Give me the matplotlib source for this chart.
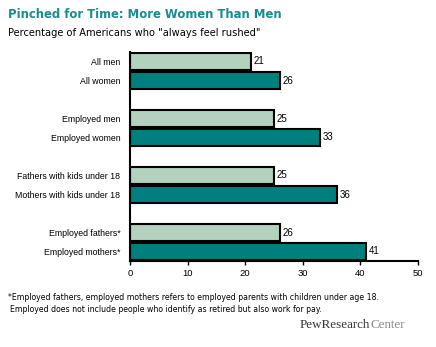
import matplotlib.pyplot as plt
import numpy as np

labels_men = ["All men", "Employed men", "Fathers with kids under 18", "Employed fathers*"]
labels_women = ["All women", "Employed women", "Mothers with kids under 18", "Employed mothers*"]
men = [21, 25, 25, 26]
women = [26, 33, 36, 41]

light = "#b3d1bf"
teal = "#007f7f"

fig = plt.figure(figsize=(4.36, 3.47), dpi=100)
ax = fig.add_axes([130/436, 1 - 261/347, 288/436, 209/347])

g = np.arange(len(men)) * 3
h = 0.9
bm = ax.barh(g, men, height=h, color=light, edgecolor="black", linewidth=1.5)
bw = ax.barh(g + 1, women, height=h, color=teal, edgecolor="black", linewidth=1.5)

for rects in (bm, bw):
    for r in rects:
        w = r.get_width()
        ax.text(w + 0.4, r.get_y() + r.get_height() / 2, str(int(w)),
                va="center", ha="left", fontsize=7, family="Liberation Sans")

yt = np.concatenate([g, g + 1])
ax.set_yticks(yt)
ax.set_yticklabels(labels_men + labels_women, fontsize=6.3, family="Liberation Sans")
ax.tick_params(axis="y", length=0, pad=7)
ax.set_ylim(10.5, -0.5)
ax.set_xlim(0, 50)
ax.set_xticks(range(0, 51, 10))
ax.tick_params(axis="x", length=3, width=1, labelsize=6.8, pad=3)
for t in ax.get_xticklabels():
    t.set_family("Liberation Sans")
ax.spines["top"].set_visible(False)
ax.spines["right"].set_visible(False)
ax.spines["left"].set_linewidth(1.5)
ax.spines["bottom"].set_linewidth(1.5)

fig.text(8/436, 1 - 15/347, "Pinched for Time: More Women Than Men", color="#1a8c8c",
         fontsize=8.4, fontweight="bold", va="center", ha="left")
fig.text(8/436, 1 - 33/347, 'Percentage of Americans who "always feel rushed"',
         fontsize=7.1, va="center", ha="left")
fig.text(8/436, 1 - 297/347,
         "*Employed fathers, employed mothers refers to employed parents with children under age 18.",
         fontsize=5.6, va="center", ha="left")
fig.text(10/436, 1 - 310/347,
         "Employed does not include people who identify as retired but also work for pay.",
         fontsize=5.6, va="center", ha="left")
t1 = fig.text(300/436, 1 - 325/347, "PewResearch", family="Liberation Serif",
              fontsize=9.4, color="#333333", va="center", ha="left")
fig.canvas.draw()
bb = t1.get_window_extent()
fig.text(bb.x1 / fig.bbox.width, 1 - 325/347, "Center", family="Liberation Serif",
         fontsize=9.4, color="#888888", va="center", ha="left")

fig.savefig("out.png", dpi=100)
